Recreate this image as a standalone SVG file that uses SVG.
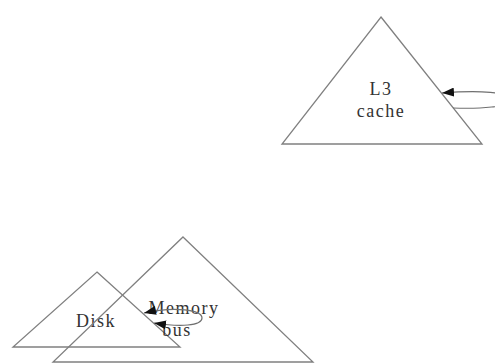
<svg xmlns="http://www.w3.org/2000/svg" width="495" height="364" viewBox="0 0 495 364">
<defs>
<style>
.shape{fill:none;stroke:#808080;stroke-width:1.3}
.edge{fill:none;stroke:#707070;stroke-width:1.2}
.lbl{font-family:"Liberation Serif",serif;font-size:18px;fill:#333;letter-spacing:1.5px;text-anchor:middle}
</style>
<marker id="ah" viewBox="0 0 12 9" refX="12" refY="4.5" markerWidth="12" markerHeight="9" markerUnits="userSpaceOnUse" orient="auto-start-reverse">
<path d="M0,0 L12,4.5 L0,9 Z" fill="#111"/>
</marker>
</defs>
<rect width="495" height="364" fill="#fff"/>
<g id="node-l3">
<polygon class="shape" points="381,17 482,144 282,144"/>
<text class="lbl" x="381" y="95">L3</text>
<text class="lbl" x="381" y="117">cache</text>
</g>
<g id="node-disk">
<polygon class="shape" points="97,272 180,347 13,347"/>
<text class="lbl" x="96" y="327">Disk</text>
</g>
<g id="node-memory-bus">
<polygon class="shape" points="183,237 313,362 53,362"/>
<text class="lbl" x="184" y="314">Memory</text>
<text class="lbl" x="177" y="336">bus</text>
</g>
<g id="connectors">
<path class="edge" d="M453,108 C480,109 510,107 510,100 C510,92 480,90 442,93" marker-end="url(#ah)"/>
<path class="edge" d="M144,313 C175,306 202,310 202,318 C202,326 180,327 154,323" marker-start="url(#ah)" marker-end="url(#ah)"/>
</g>
</svg>
